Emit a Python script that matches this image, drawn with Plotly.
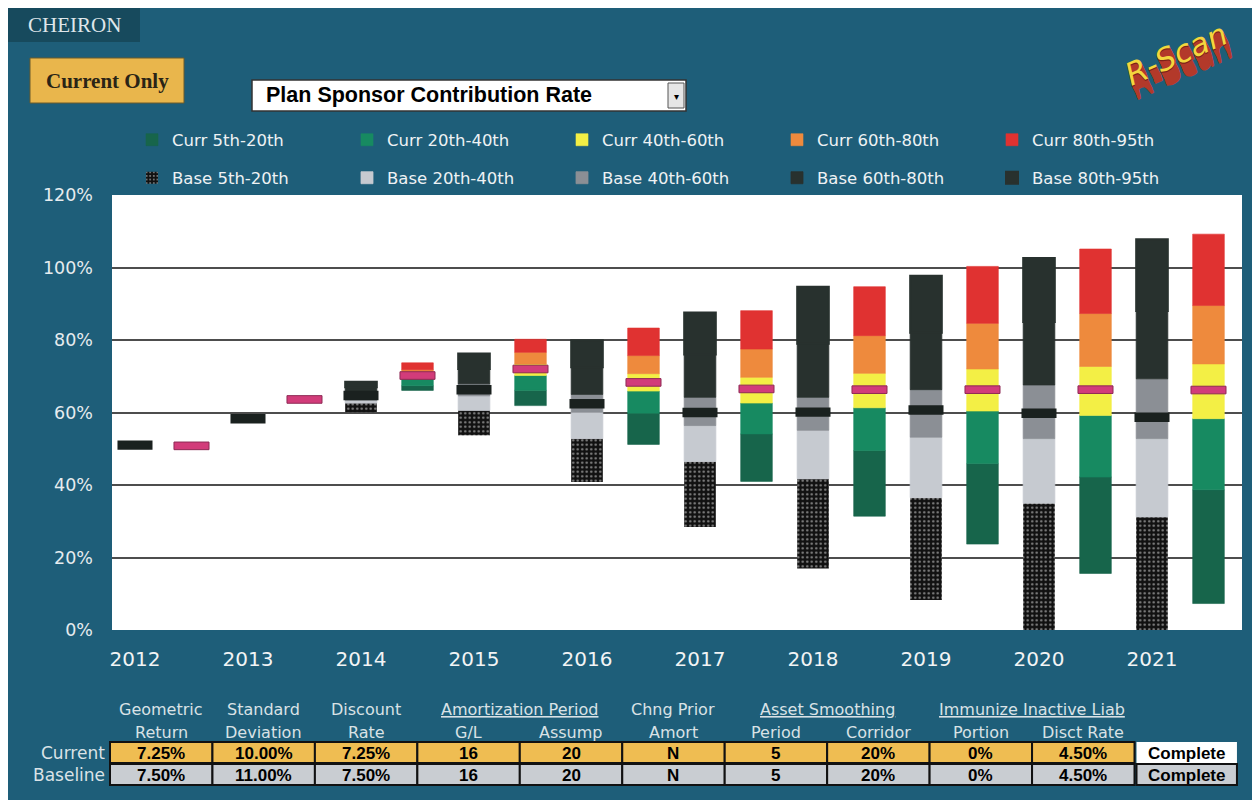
import plotly.graph_objects as go

# ---------------- data ----------------
years = [2012, 2013, 2014, 2015, 2016, 2017, 2018, 2019, 2020, 2021]

# Baseline percentiles (% of payroll)
base_p05 = [51.0, 58.3, 60.1, 53.7, 40.8, 28.4, 17.0, 8.3, 0.0, 0.0]
base_p20 = [51.0, 58.3, 62.6, 60.6, 52.8, 46.5, 41.7, 36.5, 35.0, 31.2]
base_p40 = [51.0, 58.3, 63.4, 64.6, 60.1, 56.4, 55.1, 53.2, 52.8, 52.8]
base_p50 = [51.0, 58.3, 64.7, 66.3, 62.4, 60.0, 60.1, 60.7, 59.8, 58.7]
base_p60 = [51.0, 58.3, 65.6, 67.9, 65.0, 64.2, 64.2, 66.3, 67.6, 69.3]
base_p80 = [51.0, 58.3, 67.0, 72.0, 72.5, 76.0, 79.0, 82.0, 85.0, 88.0]
base_p95 = [51.0, 58.3, 68.5, 76.3, 79.9, 87.6, 94.7, 97.7, 102.6, 107.8]

# Current percentiles
curr_p05 = [50.8, 63.6, 66.1, 61.9, 51.2, 41.0, 31.4, 23.7, 15.6, 7.3]
curr_p20 = [50.8, 63.6, 67.4, 66.1, 59.8, 54.1, 49.5, 45.9, 42.2, 38.7]
curr_p40 = [50.8, 63.6, 69.3, 70.2, 65.9, 62.6, 61.3, 60.4, 59.2, 58.3]
curr_p50 = [50.8, 63.6, 70.2, 72.0, 68.3, 66.5, 66.3, 66.3, 66.3, 66.2]
curr_p60 = [50.8, 63.6, 70.8, 73.4, 70.7, 69.7, 70.8, 72.0, 72.7, 73.4]
curr_p80 = [50.8, 63.6, 71.8, 76.6, 75.7, 77.5, 81.2, 84.6, 87.3, 89.5]
curr_p95 = [50.8, 63.6, 73.7, 80.2, 83.3, 88.1, 94.7, 100.3, 105.1, 109.2]

y_ticks = [0, 20, 40, 60, 80, 100, 120]
y_tick_text = ["0%", "20%", "40%", "60%", "80%", "100%", "120%"]

# assumption table
row_labels = ["Current", "Baseline"]
header_top = ["Geometric", "Standard", "Discount", "Amortization Period", "Chng Prior",
              "Asset Smoothing", "Immunize Inactive Liab"]
header_top_span = [(0, 0), (1, 1), (2, 2), (3, 4), (5, 5), (6, 7), (8, 9)]
header_top_underline = [False, False, False, True, False, True, True]
header_bottom = ["Return", "Deviation", "Rate", "G/L", "Assump", "Amort", "Period",
                 "Corridor", "Portion", "Disct Rate"]
current_vals = ["7.25%", "10.00%", "7.25%", "16", "20", "N", "5", "20%", "0%", "4.50%"]
baseline_vals = ["7.50%", "11.00%", "7.50%", "16", "20", "N", "5", "20%", "0%", "4.50%"]
status_vals = ["Complete", "Complete"]

# ---------------- geometry helpers (page pixels -> paper) ----------------
PAGE_OFF = 8            # default body margin of the html page
W, H = 1252, 792        # figure size (fits in the 1260x800 window after the body margin)
ML, MR, MT, MB = 104, 18, 187, 170
PW = W - ML - MR
PH = H - MT - MB


def fx(px):
    return (px - PAGE_OFF - ML) / PW


def fy(py):
    return (H - MB - (py - PAGE_OFF)) / PH


BG = "#1e5e79"
n = len(years)
base_x = [2 * i for i in range(n)]
curr_x = [2 * i + 1 for i in range(n)]
BW = 0.56
MW = 0.62

fig = go.Figure()

curr_segments = [
    ("Curr 5th-20th", curr_p05, curr_p20, "#17654b"),
    ("Curr 20th-40th", curr_p20, curr_p40, "#178a61"),
    ("Curr 40th-60th", curr_p40, curr_p60, "#f3ef45"),
    ("Curr 60th-80th", curr_p60, curr_p80, "#ee8a3d"),
    ("Curr 80th-95th", curr_p80, curr_p95, "#e03231"),
]
base_segments = [
    ("Base 5th-20th", base_p05, base_p20, None, 0),
    ("Base 20th-40th", base_p20, base_p40, "#c6cad0", 0.8),
    ("Base 40th-60th", base_p40, base_p60, "#8b8f95", 0.8),
    ("Base 60th-80th", base_p60, base_p80, "#28312e", 0.8),
    ("Base 80th-95th", base_p80, base_p95, "#28312e", 2),
]

for name, lo, hi, col, lw in base_segments:
    if col is None:
        marker = dict(color="#111111", line=dict(width=0),
                      pattern=dict(shape=".", fgcolor="white", bgcolor="#111111",
                                   size=4.5, solidity=0.22))
    else:
        marker = dict(color=col, line=dict(width=lw, color=col))
    fig.add_trace(go.Bar(
        x=base_x, y=[h - l for l, h in zip(lo, hi)], base=lo, width=BW,
        marker=marker, name=name, legend="legend2", hoverinfo="skip"))

for name, lo, hi, col in curr_segments:
    fig.add_trace(go.Bar(
        x=curr_x, y=[h - l for l, h in zip(lo, hi)], base=lo, width=BW,
        marker=dict(color=col, line=dict(width=0.6, color=col)), name=name, legend="legend",
        hoverinfo="skip"))

# median markers
fig.add_trace(go.Bar(
    x=base_x, y=[2.6] * n, base=[m - 1.3 for m in base_p50], width=MW,
    marker=dict(color="#1a211f", line=dict(width=0)), showlegend=False,
    name="Base Median", hoverinfo="skip"))
fig.add_trace(go.Bar(
    x=curr_x, y=[2.1] * n, base=[m - 1.05 for m in curr_p50], width=MW,
    marker=dict(color="#d23c7a", line=dict(width=1, color="#8e2a55")), showlegend=False,
    name="Curr Median", hoverinfo="skip"))

shapes = []
ann = []


def text(x, y, s, font, xanchor="center", yanchor="middle", **kw):
    d = dict(x=fx(x), y=fy(y), xref="paper", yref="paper", text=s, showarrow=False,
             xanchor=xanchor, yanchor=yanchor, font=font)
    d.update(kw)
    ann.append(d)


def rect(x0, y0, x1, y1, fill, line=None):
    shapes.append(dict(type="rect", xref="paper", yref="paper", x0=fx(x0), x1=fx(x1),
                       y0=fy(y1), y1=fy(y0), fillcolor=fill,
                       line=line if line else dict(width=0)))


# Cheiron logo box
rect(8, 8, 140, 42, "#174a5d")
text(74, 25, "CHEIRON", dict(family="Liberation Serif", size=21, color="#dfe6ea"))

# Current Only button
rect(30, 58, 184, 103, "#e9b64c", dict(width=1, color="#6b5a2a"))
text(107, 81, "<b>Current Only</b>", dict(family="Liberation Serif", size=21, color="#2a2416"))

# dropdown
rect(252, 80, 686, 111, "white", dict(width=1.5, color="#333333"))
rect(668, 83, 684, 108, "#e6e6e6", dict(width=1, color="#555555"))
text(264, 95, "<b>Plan Sponsor Contribution Rate</b>",
     dict(family="Liberation Sans", size=21.5, color="black"), xanchor="left")
text(676, 96, "▾", dict(family="DejaVu Sans", size=10, color="black"))

# R-Scan logo
for i in range(14, 0, -1):
    text(1176 + i * 0.45, 54 + i * 1.0, "R-Scan",
         dict(family="DejaVu Sans", size=31, color="#b3392a" if i > 1 else "#7a2218", style="italic"),
         textangle=-24)
text(1176, 54, "R-Scan", dict(family="DejaVu Sans", size=31, color="#f3d63e", style="italic"),
     textangle=-24)

# assumption table
CELL_X0 = 110
CELL_W = 102.45
ROW_Y = [(742, 763), (764, 785)]
HDR_FONT = dict(family="DejaVu Sans", size=16, color="#d9e2e6")


def cell_cx(k):
    return CELL_X0 + CELL_W * (k + 0.5)


for txt, (a, b), ul in zip(header_top, header_top_span, header_top_underline):
    cx = (cell_cx(a) + cell_cx(b)) / 2
    text(cx, 709, f"<u>{txt}</u>" if ul else txt, HDR_FONT)
for k, txt in enumerate(header_bottom):
    text(cell_cx(k), 732, txt, HDR_FONT)

row_fill = ["#efbd52", "#c9cdd2"]
status_fill = ["white", "#c9cdd2"]
for r, (vals, lab) in enumerate(zip([current_vals, baseline_vals], row_labels)):
    y0, y1 = ROW_Y[r]
    text(107, (y0 + y1) / 2, lab, dict(family="DejaVu Sans", size=17, color="#dbe3e7"),
         xanchor="right")
    for k, v in enumerate(vals):
        x0 = CELL_X0 + CELL_W * k
        rect(x0, y0, x0 + CELL_W, y1, row_fill[r], dict(width=2, color="#111111"))
        text(cell_cx(k), (y0 + y1) / 2 + 0.5, f"<b>{v}</b>",
             dict(family="Liberation Sans", size=17, color="black"))
    k = len(vals)
    x0 = CELL_X0 + CELL_W * k + 2
    rect(x0, y0, x0 + CELL_W - 2, y1, status_fill[r],
         dict(width=2 if r else 0, color="#111111"))
    text(x0 + (CELL_W - 2) / 2, (y0 + y1) / 2 + 0.5, f"<b>{status_vals[r]}</b>",
         dict(family="Liberation Sans", size=17, color="black"))

legend_common = dict(orientation="h", xref="paper", yref="paper", xanchor="left", yanchor="middle",
                     entrywidth=170, entrywidthmode="pixels", bgcolor="rgba(0,0,0,0)",
                     font=dict(family="DejaVu Sans", size=16.5, color="#eef2f4"),
                     itemclick=False, itemdoubleclick=False, traceorder="normal")

fig.update_layout(
    width=W, height=H,
    margin=dict(l=ML, r=MR, t=MT, b=MB, autoexpand=False),
    paper_bgcolor=BG, plot_bgcolor="white",
    barmode="overlay",
    showlegend=True,
    legend=dict(legend_common, x=fx(132), y=fy(140)),
    legend2=dict(legend_common, x=fx(132), y=fy(178)),
    xaxis=dict(range=[-0.407, 19.593], tickvals=base_x, ticktext=[str(y) for y in years],
               showgrid=False, zeroline=False, showline=False, ticks="",
               ticklabelstandoff=15,
               tickfont=dict(family="DejaVu Sans", size=20, color="#f2f4f5")),
    yaxis=dict(range=[0, 120], tickvals=y_ticks, ticktext=y_tick_text, showgrid=True,
               gridcolor="#4d4d4d", gridwidth=1.5, zeroline=False, showline=False, ticks="",
               ticklabelstandoff=18,
               tickfont=dict(family="DejaVu Sans", size=17.5, color="#e6ecef")),
    shapes=shapes,
    annotations=ann,
)

fig.write_html("out.html")
